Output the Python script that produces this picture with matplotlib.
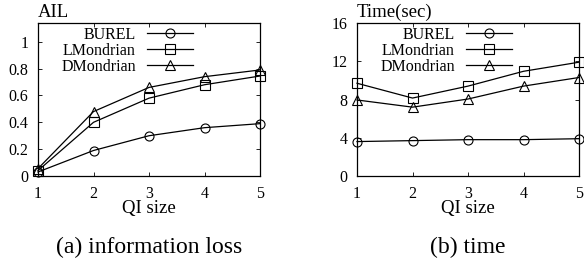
import matplotlib.pyplot as plt
import numpy as np

plt.rcParams["font.family"] = ["Liberation Serif", "DejaVu Serif"]
plt.rcParams["font.size"] = 11.5

qi_size = [1, 2, 3, 4, 5]
series_names = ["BUREL", "LMondrian", "DMondrian"]
markers = ["o", "s", "^"]

ail_burel = [0.03, 0.19, 0.30, 0.36, 0.39]
ail_lmondrian = [0.04, 0.40, 0.58, 0.68, 0.745]
ail_dmondrian = [0.055, 0.48, 0.66, 0.74, 0.79]

time_burel = [3.6, 3.7, 3.8, 3.8, 3.9]
time_lmondrian = [9.7, 8.15, 9.4, 10.95, 11.9]
time_dmondrian = [7.95, 7.2, 8.05, 9.4, 10.3]

fig = plt.figure(figsize=(5.84, 2.65), dpi=100)
ax1 = fig.add_axes([38 / 584, 1 - 176 / 265, 222 / 584, 153 / 265])
ax2 = fig.add_axes([357 / 584, 1 - 176 / 265, 222 / 584, 153 / 265])

panels = [
    (ax1, [ail_burel, ail_lmondrian, ail_dmondrian], (0, 1.14),
     [0, 0.2, 0.4, 0.6, 0.8, 1], ["0", "0.2", "0.4", "0.6", "0.8", "1"],
     "AIL", "(a) information loss"),
    (ax2, [time_burel, time_lmondrian, time_dmondrian], (0, 16),
     [0, 4, 8, 12, 16], ["0", "4", "8", "12", "16"],
     "Time(sec)", "(b) time"),
]

for ax, values, ylim, yticks, yticklabels, ylabel, caption in panels:
    for name, vals, m in zip(series_names, values, markers):
        ax.plot(qi_size, vals, color="black", lw=0.9, marker=m, ms=6.5,
                mfc="none", mec="black", mew=0.8, label=name, clip_on=False)
    ax.set_xlim(1, 5)
    ax.set_ylim(*ylim)
    ax.set_xticks(qi_size)
    ax.set_yticks(yticks)
    ax.set_yticklabels(yticklabels)
    ax.tick_params(direction="in", top=True, right=True, length=3, width=0.6)
    ax.tick_params(axis="y", pad=7)
    ax.tick_params(axis="x", pad=7)
    for s in ax.spines.values():
        s.set_linewidth(0.9)
    ax.set_xlabel("QI size", fontsize=13.5, labelpad=-1)
    ax.text(0.0, 1.01, ylabel, transform=ax.transAxes, ha="left",
            va="bottom", fontsize=13.5)
    ax.text(0.5, -0.465, caption, transform=ax.transAxes, ha="center",
            va="center", fontsize=17)
    leg = ax.legend(loc="upper right", bbox_to_anchor=(0.70, 0.975),
                    frameon=False, markerfirst=False, handlelength=2.9,
                    handletextpad=0.7, labelspacing=0.0, borderpad=0.0,
                    borderaxespad=0.0)
    for t in leg.get_texts():
        t.set_ha("right")
    leg._legend_box.align = "right"

fig.savefig("out.png", dpi=100)
